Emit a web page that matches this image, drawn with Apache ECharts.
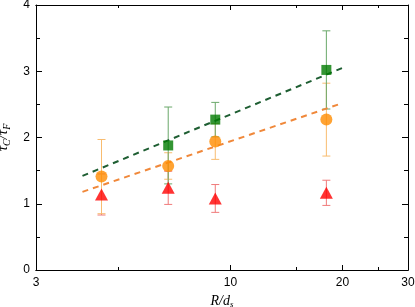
<!DOCTYPE html>
<html><head><meta charset="utf-8">
<script src="https://cdn.jsdelivr.net/npm/echarts@6/dist/echarts.min.js"></script>
<style>html,body{margin:0;padding:0;background:#fff}#c{width:415px;height:307px}</style>
</head><body><div id="c"></div>
<script>
var xValues = [4.5, 6.8, 9.1, 18.1];
var greenY = [null, 1.88, 2.27, 3.02];
var greenErr = [null, 0.58, 0.26, 0.59];
var orangeY = [1.41, 1.57, 1.94, 2.27];
var orangeErr = [0.56, 0.20, 0.27, 0.55];
var redY = [1.14, 1.24, 1.08, 1.165];
var redErr = [0.31, 0.25, 0.21, 0.19];
var greenFitX = [4, 20];
var greenFitY = [1.42, 3.05];
var orangeFitX = [4, 20];
var orangeFitY = [1.18, 2.52];
var xMajorTicks = [10, 20];
var xMinorTicks = [5, 15, 25];
var xTickLabels = [3, 10, 20, 30];

function pts(xs, ys){ var o=[]; for(var i=0;i<xs.length;i++){ if(ys[i]!=null) o.push([xs[i], ys[i]]); } return o; }
function errPts(xs, ys, es){ var o=[]; for(var i=0;i<xs.length;i++){ if(ys[i]!=null) o.push([xs[i], ys[i]-es[i], ys[i]+es[i]]); } return o; }

function errSeries(data, color){
  return {
    type:'custom', xAxisIndex:0, yAxisIndex:0, data:data, z:2,
    renderItem:function(params, api){
      var lo = api.coord([api.value(0), api.value(1)]);
      var hi = api.coord([api.value(0), api.value(2)]);
      var w = 4;
      var st = {stroke:color, lineWidth:1};
      return {type:'group', children:[
        {type:'line', shape:{x1:lo[0],y1:lo[1],x2:hi[0],y2:hi[1]}, style:st},
        {type:'line', shape:{x1:lo[0]-w,y1:lo[1],x2:lo[0]+w,y2:lo[1]}, style:st},
        {type:'line', shape:{x1:hi[0]-w,y1:hi[1],x2:hi[0]+w,y2:hi[1]}, style:st}
      ]};
    }
  };
}

var axisLine = {show:true, onZero:false, lineStyle:{color:'#000', width:1}};
var FONT = 'Liberation Sans, Arial';
var SERIF = 'Liberation Serif, Times New Roman';

function xAx(pos, ticks, len, labels, name){
  var a = {
    type:'log', logBase:10, min:3, max:30, position:pos,
    axisLine:axisLine,
    axisTick:{show:true, inside:true, length:len, customValues:ticks, lineStyle:{color:'#000'}},
    axisLabel:{show:!!labels, customValues:labels||[], margin:7, fontFamily:FONT, fontSize:12, color:'#000'},
    splitLine:{show:false}, minorTick:{show:false}, minorSplitLine:{show:false}
  };
  if(name){
    a.name = '{i|R}{n|/}{i|d}{s|s}';
    a.nameLocation='middle'; a.nameGap=19;
    a.nameTextStyle={rich:{
      i:{fontFamily:SERIF, fontStyle:'italic', fontSize:14, color:'#000'},
      n:{fontFamily:SERIF, fontStyle:'italic', fontSize:14, color:'#000'},
      s:{fontFamily:SERIF, fontStyle:'italic', fontSize:9, color:'#000', verticalAlign:'bottom', padding:[8,0,0,0]}
    }};
  }
  return a;
}

function yAx(pos, labels, name){
  var a = {
    type:'value', min:0, max:4, interval:1, position:pos,
    axisLine:axisLine,
    axisTick:{show:true, inside:true, length:6, lineStyle:{color:'#000'}},
    minorTick:{show:true, splitNumber:2, length:4, lineStyle:{color:'#000'}},
    axisLabel:{show:labels, margin:6, fontFamily:FONT, fontSize:12, color:'#000'},
    splitLine:{show:false}
  };
  if(name){
    a.name = '{i|τ}{s|C}{n|/}{i|τ}{s|F}';
    a.nameLocation='middle'; a.nameGap=18; a.nameRotate=90;
    a.nameTextStyle={rich:{
      i:{fontFamily:SERIF, fontStyle:'italic', fontSize:15, color:'#000'},
      n:{fontFamily:SERIF, fontStyle:'italic', fontSize:15, color:'#000'},
      s:{fontFamily:SERIF, fontStyle:'italic', fontSize:10, color:'#000', verticalAlign:'bottom', padding:[8,0,0,0]}
    }};
  }
  return a;
}

var chart = echarts.init(document.getElementById('c'), null, {renderer:'canvas'});
chart.setOption({
  animation:false,
  grid:{left:36, right:7, top:5, bottom:37, containLabel:false, outerBoundsMode:'none'},
  xAxis:[
    xAx('bottom', xMajorTicks, 5, xTickLabels, true),
    xAx('bottom', xMinorTicks, 3, null, false),
    xAx('top', xMajorTicks, 5, null, false),
    xAx('top', xMinorTicks, 3, null, false)
  ],
  yAxis:[ yAx('left', true, true), yAx('right', false, false) ],
  series:[
    {type:'line', data:pts(greenFitX, greenFitY), symbol:'none', lineStyle:{color:'#1e5e32', width:2, type:[6,5]}, z:3},
    {type:'line', data:pts(orangeFitX, orangeFitY), symbol:'none', lineStyle:{color:'#f0883a', width:2, type:[6,5]}, z:3},
    errSeries(errPts(xValues, redY, redErr), '#f07a7a'),
    errSeries(errPts(xValues, orangeY, orangeErr), '#f8bc70'),
    errSeries(errPts(xValues, greenY, greenErr), '#6aa86a'),
    {type:'scatter', data:pts(xValues, redY), symbol:'triangle', symbolSize:[13,12], itemStyle:{color:'#ff0000'}, z:4},
    {type:'scatter', data:pts(xValues, orangeY), symbol:'circle', symbolSize:12, itemStyle:{color:'#ff8c00'}, z:4},
    {type:'scatter', data:pts(xValues, greenY), symbol:'rect', symbolSize:10, itemStyle:{color:'#007a00'}, z:5}
  ]
});
</script></body></html>
